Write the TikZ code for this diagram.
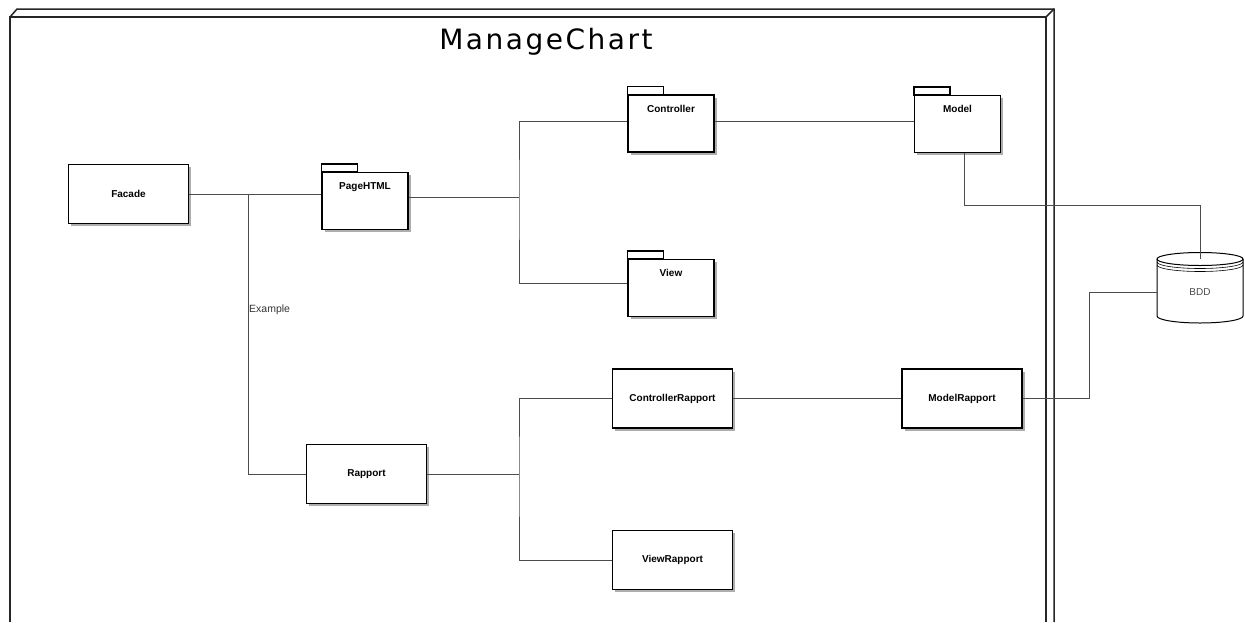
\documentclass[tikz,border=0pt]{standalone}
\usepackage{fontspec}
\setmainfont{Liberation Sans}
\newfontfamily\titlefont[LetterSpace=9]{DejaVu Sans}
\usetikzlibrary{calc,shadows}

\tikzset{
  box/.style={draw, line width=1.3pt, fill=white, minimum width=120pt, minimum height=59pt,
    font=\fontsize{10}{12}\selectfont\bfseries,
    drop shadow={shadow xshift=2.5pt, shadow yshift=-2.5pt, fill=black!40, opacity=0.8}},
  pkg/.style={draw, line width=1.3pt, fill=white, minimum width=86pt, minimum height=57pt,
    drop shadow={shadow xshift=2.5pt, shadow yshift=-2.5pt, fill=black!40, opacity=0.8}},
  pkgname/.style={anchor=north, inner sep=0pt, yshift=-10.5pt, font=\fontsize{10}{12}\selectfont\bfseries},
  link/.style={draw=black!70, line width=0.8pt},
  frameline/.style={line width=1.5pt, draw=black!85},
}
\newcommand{\pkgtab}[1]{\draw[line width=1.3pt, fill=white] (#1.north west) rectangle ++(36,-8);}

\begin{document}
\begin{tikzpicture}[x=1pt, y=-1pt]
    \useasboundingbox (0,0) rectangle (1245,622);

    % Frame
    \draw[frameline] (10,622) -- (10,17) -- (1046,17) -- (1046,622);
    \draw[frameline] (10,17) -- (17,9) -- (1054,9) -- (1054,622);
    \draw[frameline] (1046,17) -- (1054,9);
    \node[font=\titlefont\fontsize{28}{30}\selectfont] (title) at (546,42) {ManageChart};

    % Facade and PageHTML
    \node[box] (facade) at (128.5,194) {Facade};
    \node[pkg, label={[pkgname]north:PageHTML}] (pagehtml) at (365,201) {};
    \pkgtab{pagehtml}

    % Controller, Model, View
    \node[pkg, label={[pkgname]north:Controller}] (controller) at (671,123.5) {};
    \pkgtab{controller}
    \node[pkg, label={[pkgname]north:Model}] (model) at (957.5,124) {};
    \pkgtab{model}
    \node[pkg, label={[pkgname]north:View}] (view) at (671,288) {};
    \pkgtab{view}

    % Rapport side
    \node[box] (rapport) at (366.5,474) {Rapport};
    \node[box] (controllerrapport) at (672.5,398.5) {ControllerRapport};
    \node[box] (modelrapport) at (962,398.5) {ModelRapport};
    \node[box] (viewrapport) at (672.5,560) {ViewRapport};

    % BDD
    \draw[line width=1pt, fill=white] (1157,259) -- (1157,316)
        arc[start angle=180, end angle=0, x radius=43, y radius=7] -- (1243,259);
    \draw[line width=1pt] (1200,259) ellipse[x radius=43, y radius=6.5];
    \draw[line width=0.6pt] (1157,262) arc[start angle=180, end angle=0, x radius=43, y radius=6.5];
    \draw[line width=0.6pt] (1157,265) arc[start angle=180, end angle=0, x radius=43, y radius=6.5];
    \node[font=\fontsize{10}{12}\selectfont, text=black!70] (bdd) at (1200,292) {BDD};
    \coordinate (bddtop) at (1200,259);
    \coordinate (bddleft) at (1157,292);

    % Links
    \coordinate (split1) at (519,197);
    \coordinate (split2) at (519,474);
    \coordinate (ex) at (248,194);
    \draw[link] (facade.east) -- (facade.east -| pagehtml.west);
    \draw[link] (ex) |- (rapport.west);
    \node[anchor=west, inner sep=1pt, font=\fontsize{10.5}{12}\selectfont, text=black!80] (example) at (248,310) {Example};
    \draw[link] (pagehtml.east |- split1) -- (split1);
    \draw[link] ([yshift=2.5pt]controller.west) -| (split1) |- ([yshift=5pt]view.west);
    \draw[link] ([yshift=2.5pt]controller.east) -- ([yshift=2.5pt]controller.east -| model.west);
    \coordinate (mbend) at (1200,205);
    \draw[link] ([xshift=6.5pt]model.south) |- (mbend) -- (bddtop);
    \draw[link] (rapport.east) -- (split2);
    \draw[link] (controllerrapport.west) -| (split2) |- (viewrapport.west);
    \draw[link] (controllerrapport.east) -- (modelrapport.west);
    \draw[link] (modelrapport.east) -- ++(67,0) |- (bddleft);
\end{tikzpicture}
\end{document}
